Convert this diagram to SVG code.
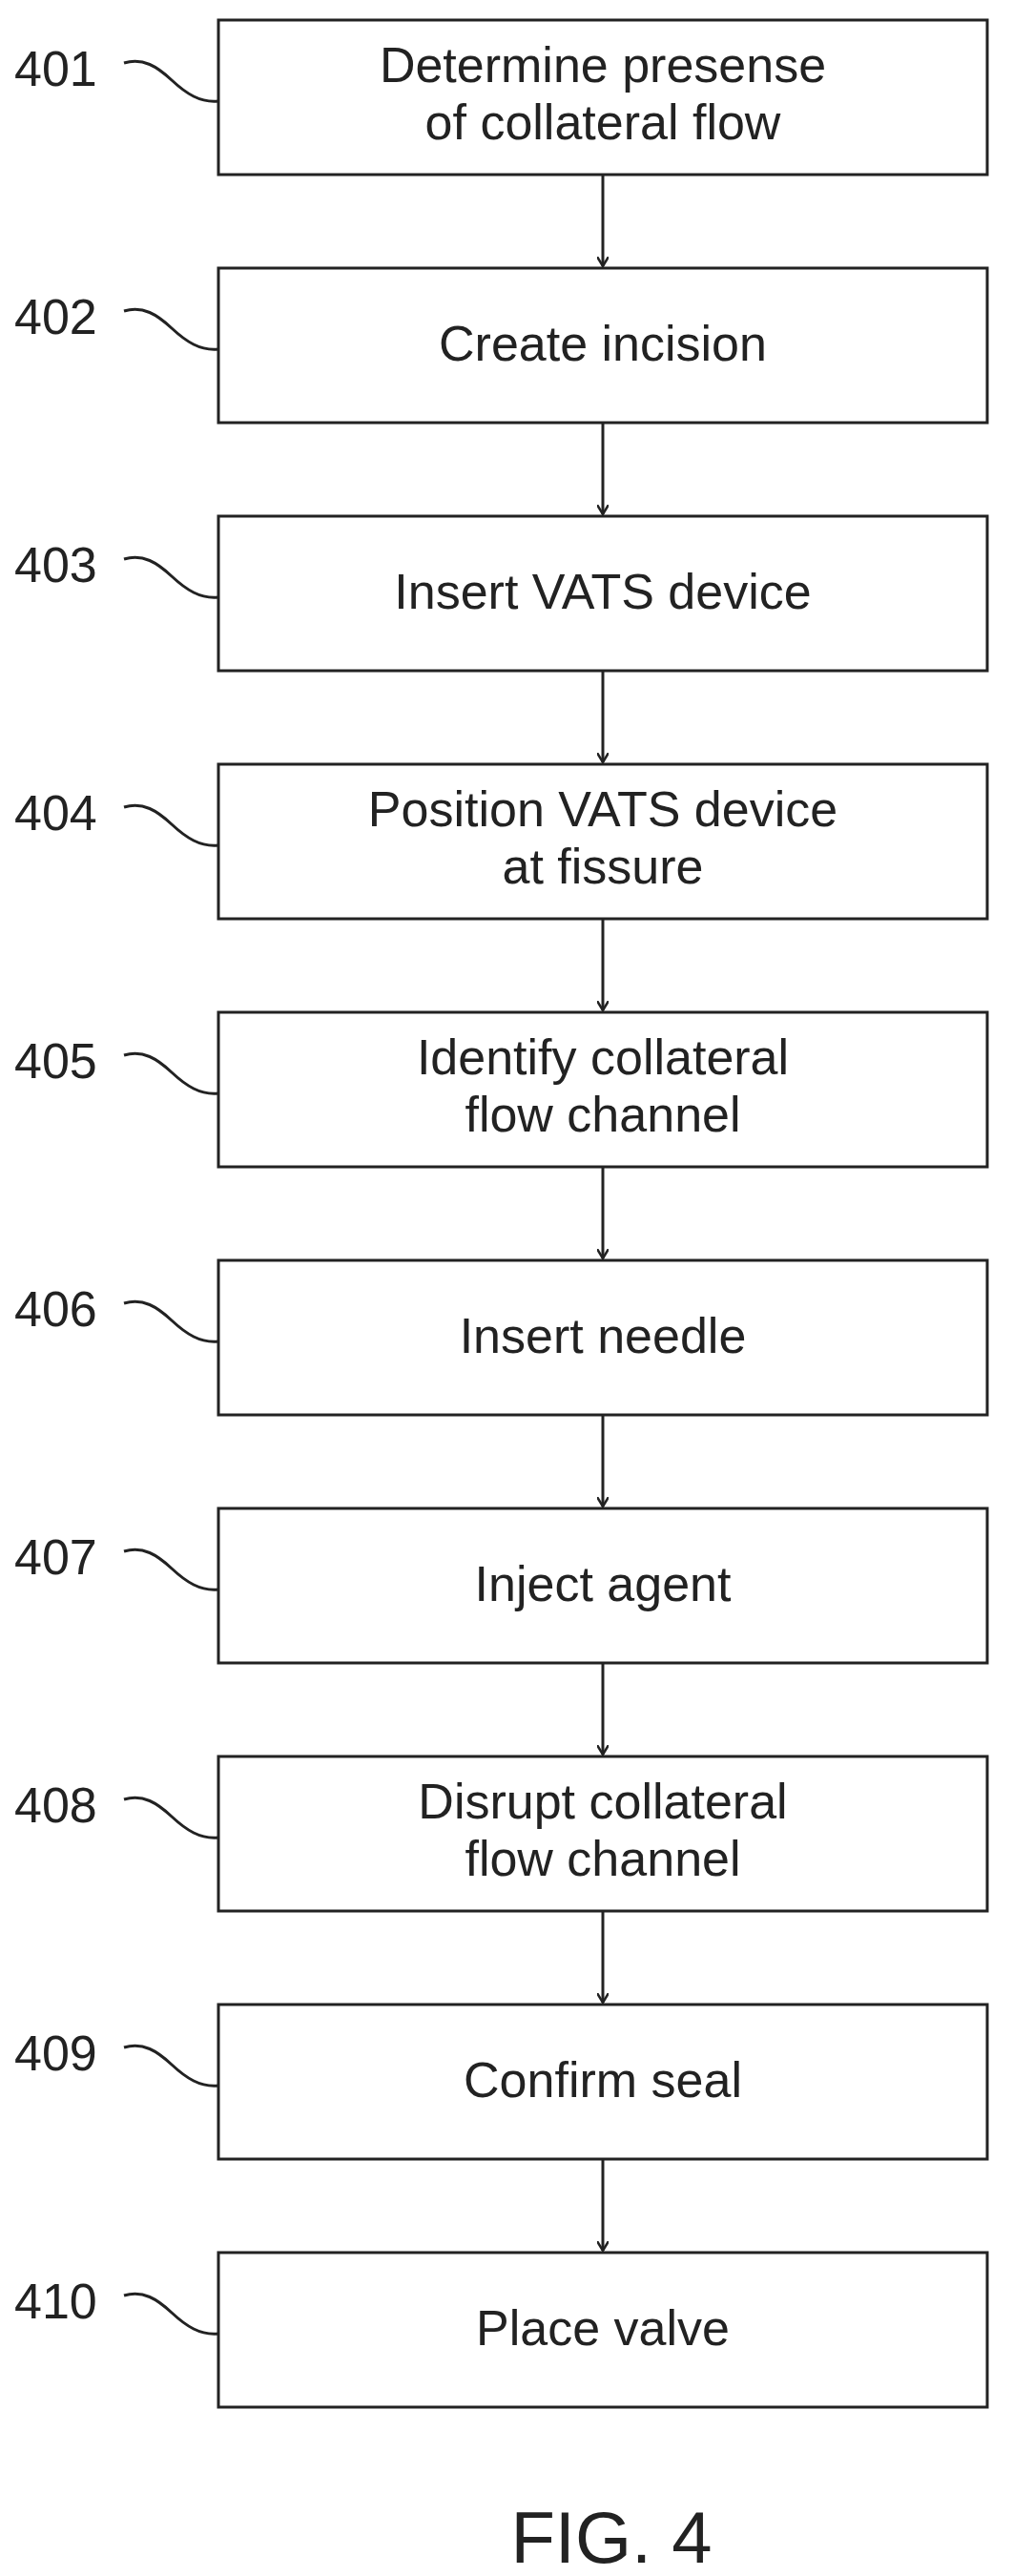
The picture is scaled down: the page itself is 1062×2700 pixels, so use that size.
<svg xmlns="http://www.w3.org/2000/svg" width="1062" height="2700" viewBox="0 0 1062 2700">
<style>
.b{fill:#fff;stroke:#222;stroke-width:3}
.t{font-family:"Liberation Sans",Arial,sans-serif;font-size:52px;fill:#222;text-anchor:middle}
.n{font-family:"Liberation Sans",Arial,sans-serif;font-size:52px;fill:#222}
.l{fill:none;stroke:#222;stroke-width:3}
.c{fill:none;stroke:#222;stroke-width:3}
</style>
<defs>
<marker id="a" markerWidth="12" markerHeight="12" refX="10" refY="6" orient="auto" markerUnits="userSpaceOnUse" viewBox="0 0 12 12">
<path d="M0,0 L10,6 L0,12" fill="none" stroke="#222" stroke-width="2.5"/>
</marker>
<path id="w" d="M0,0 C20,-6 35,4 50,18 C65,32 80,42 99,40" class="l"/>
</defs>
<rect width="1062" height="2700" fill="#fff"/>
<g id="connectors">
<line class="c" x1="632" y1="183" x2="632" y2="279" marker-end="url(#a)"/>
<line class="c" x1="632" y1="443" x2="632" y2="539" marker-end="url(#a)"/>
<line class="c" x1="632" y1="703" x2="632" y2="799" marker-end="url(#a)"/>
<line class="c" x1="632" y1="963" x2="632" y2="1059" marker-end="url(#a)"/>
<line class="c" x1="632" y1="1223" x2="632" y2="1319" marker-end="url(#a)"/>
<line class="c" x1="632" y1="1483" x2="632" y2="1579" marker-end="url(#a)"/>
<line class="c" x1="632" y1="1743" x2="632" y2="1839" marker-end="url(#a)"/>
<line class="c" x1="632" y1="2003" x2="632" y2="2099" marker-end="url(#a)"/>
<line class="c" x1="632" y1="2263" x2="632" y2="2359" marker-end="url(#a)"/>
</g>
<g id="n401"><rect class="b" x="229" y="21" width="806" height="162"/><text class="t" x="632" y="86">Determine presense</text><text class="t" x="632" y="146">of collateral flow</text><text class="n" x="15" y="90">401</text><use href="#w" x="130" y="66"/></g>
<g id="n402"><rect class="b" x="229" y="281" width="806" height="162"/><text class="t" x="632" y="378">Create incision</text><text class="n" x="15" y="350">402</text><use href="#w" x="130" y="326"/></g>
<g id="n403"><rect class="b" x="229" y="541" width="806" height="162"/><text class="t" x="632" y="638">Insert VATS device</text><text class="n" x="15" y="610">403</text><use href="#w" x="130" y="586"/></g>
<g id="n404"><rect class="b" x="229" y="801" width="806" height="162"/><text class="t" x="632" y="866">Position VATS device</text><text class="t" x="632" y="926">at fissure</text><text class="n" x="15" y="870">404</text><use href="#w" x="130" y="846"/></g>
<g id="n405"><rect class="b" x="229" y="1061" width="806" height="162"/><text class="t" x="632" y="1126">Identify collateral</text><text class="t" x="632" y="1186">flow channel</text><text class="n" x="15" y="1130">405</text><use href="#w" x="130" y="1106"/></g>
<g id="n406"><rect class="b" x="229" y="1321" width="806" height="162"/><text class="t" x="632" y="1418">Insert needle</text><text class="n" x="15" y="1390">406</text><use href="#w" x="130" y="1366"/></g>
<g id="n407"><rect class="b" x="229" y="1581" width="806" height="162"/><text class="t" x="632" y="1678">Inject agent</text><text class="n" x="15" y="1650">407</text><use href="#w" x="130" y="1626"/></g>
<g id="n408"><rect class="b" x="229" y="1841" width="806" height="162"/><text class="t" x="632" y="1906">Disrupt collateral</text><text class="t" x="632" y="1966">flow channel</text><text class="n" x="15" y="1910">408</text><use href="#w" x="130" y="1886"/></g>
<g id="n409"><rect class="b" x="229" y="2101" width="806" height="162"/><text class="t" x="632" y="2198">Confirm seal</text><text class="n" x="15" y="2170">409</text><use href="#w" x="130" y="2146"/></g>
<g id="n410"><rect class="b" x="229" y="2361" width="806" height="162"/><text class="t" x="632" y="2458">Place valve</text><text class="n" x="15" y="2430">410</text><use href="#w" x="130" y="2406"/></g>
<text class="t" x="641" y="2686" style="font-size:76px">FIG. 4</text>
</svg>
